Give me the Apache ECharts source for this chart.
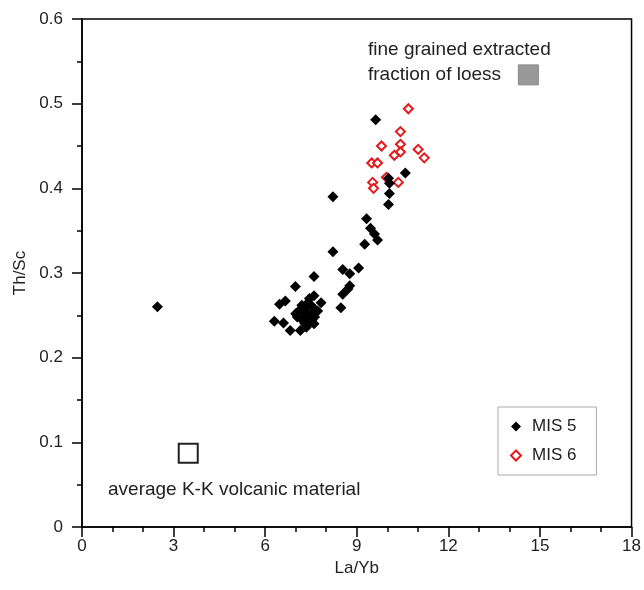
<!DOCTYPE html>
<html>
<head>
<meta charset="utf-8">
<script src="https://cdn.jsdelivr.net/npm/echarts@6/dist/echarts.min.js"></script>
<style>html,body{margin:0;padding:0;background:#fff}#c{width:644px;height:590px}</style>
</head>
<body>
<div id="c"></div>
<script>
// MIS 5 samples
var mis5X = [2.47, 9.62, 10.59, 10.04, 10.07, 10.07, 10.04, 8.22, 9.32, 9.45, 9.58, 9.68, 9.26, 8.22, 9.06, 8.54, 8.77, 8.77, 8.71, 8.54, 8.48,
  7.60, 6.99, 7.60, 6.66, 6.47, 7.83, 6.30, 6.60, 6.82, 7.15,
  7.10, 7.20, 7.30, 7.40, 7.50, 7.60, 7.30, 7.40, 7.50, 7.20, 7.05, 7.62, 7.72, 7.40, 7.52, 7.60, 7.30, 7.00, 7.45, 7.25, 7.55, 7.35];
var mis5Y = [0.260, 0.481, 0.418, 0.412, 0.406, 0.394, 0.381, 0.390, 0.364, 0.353, 0.346, 0.339, 0.334, 0.325, 0.306, 0.304, 0.299, 0.285, 0.281, 0.275, 0.259,
  0.296, 0.284, 0.273, 0.267, 0.263, 0.265, 0.243, 0.241, 0.232, 0.232,
  0.255, 0.262, 0.258, 0.265, 0.262, 0.258, 0.248, 0.252, 0.250, 0.245, 0.248, 0.248, 0.255, 0.240, 0.243, 0.240, 0.240, 0.252, 0.270, 0.255, 0.246, 0.236];
// MIS 6 samples
var mis6X = [10.69, 10.43, 9.81, 10.43, 10.43, 10.23, 11.01, 11.21, 9.49, 9.68, 9.52, 9.55, 10.36, 9.97];
var mis6Y = [0.494, 0.467, 0.450, 0.452, 0.443, 0.439, 0.446, 0.436, 0.430, 0.430, 0.407, 0.400, 0.407, 0.413];
// reference end members
var loessPoint = [14.62, 0.534];
var volcanicPoint = [3.48, 0.087];
var xTicks = [0, 3, 6, 9, 12, 15, 18];
var yTicks = [0, 0.1, 0.2, 0.3, 0.4, 0.5, 0.6];

function zip(a, b) { return a.map(function (v, i) { return [v, b[i]]; }); }

var chart = echarts.init(document.getElementById('c'));
var font = 'Liberation Sans, Arial, sans-serif';
var txt = '#222';
chart.setOption({
  animation: false,
  backgroundColor: '#fff',
  textStyle: { fontFamily: font },
  grid: { left: 82, right: 5, top: 19, bottom: 63, show: true, borderColor: '#000', borderWidth: 1.5, backgroundColor: 'transparent' },
  xAxis: {
    type: 'value', min: xTicks[0], max: xTicks[xTicks.length - 1], interval: 3,
    name: 'La/Yb', nameLocation: 'middle', nameGap: 27,
    nameTextStyle: { fontSize: 17, color: txt, fontFamily: font },
    axisLine: { show: true, lineStyle: { color: '#000', width: 1.5 } },
    axisTick: { show: true, length: 10, inside: false, lineStyle: { color: '#000', width: 1.5 } },
    minorTick: { show: true, splitNumber: 3, length: 5, lineStyle: { color: '#000', width: 1.5 } },
    splitLine: { show: false },
    axisLabel: { fontSize: 17, color: txt, margin: 11, fontFamily: font }
  },
  yAxis: {
    type: 'value', min: yTicks[0], max: yTicks[yTicks.length - 1], interval: 0.1,
    name: 'Th/Sc', nameLocation: 'middle', nameGap: 53,
    nameTextStyle: { fontSize: 17, color: txt, fontFamily: font },
    axisLine: { show: true, lineStyle: { color: '#000', width: 1.5 } },
    axisTick: { show: true, length: 10, inside: false, lineStyle: { color: '#000', width: 1.5 } },
    minorTick: { show: true, splitNumber: 2, length: 5, lineStyle: { color: '#000', width: 1.5 } },
    splitLine: { show: false },
    axisLabel: { fontSize: 17, color: txt, margin: 19, fontFamily: font, formatter: function (v) { return String(+v.toFixed(1)); } }
  },
  legend: {
    data: ['MIS 5', 'MIS 6'], orient: 'vertical', left: 498, top: 407,
    padding: [11, 20, 11, 12], itemGap: 12, itemWidth: 10, itemHeight: 10,
    borderColor: '#aaa', borderWidth: 1,
    textStyle: { fontSize: 17, color: txt, fontFamily: font, padding: [0, 0, 0, 6] }
  },
  series: [
    {
      name: 'MIS 6', type: 'scatter', symbol: 'diamond', symbolSize: 9,
      itemStyle: { color: '#fff', borderColor: '#e3191b', borderWidth: 2, opacity: 1 },
      data: zip(mis6X, mis6Y), z: 3
    },
    {
      name: 'MIS 5', type: 'scatter', symbol: 'diamond', symbolSize: 11,
      itemStyle: { color: '#000', opacity: 1 },
      data: zip(mis5X, mis5Y), z: 4
    },
    {
      name: 'loess', type: 'scatter', symbol: 'rect', symbolSize: 20,
      itemStyle: { color: '#999', borderColor: '#888', borderWidth: 1, opacity: 1 },
      data: [loessPoint], z: 2
    },
    {
      name: 'volcanic', type: 'scatter', symbol: 'rect', symbolSize: 19,
      itemStyle: { color: '#fff', borderColor: '#222', borderWidth: 2, opacity: 1 },
      data: [volcanicPoint], z: 2
    }
  ],
  graphic: [
    { type: 'text', left: 368, top: 40, style: { text: 'fine grained extracted', font: '19px ' + font, fill: txt } },
    { type: 'text', left: 368, top: 65, style: { text: 'fraction of loess', font: '19px ' + font, fill: txt } },
    { type: 'text', left: 108, top: 480, style: { text: 'average K-K volcanic material', font: '19px ' + font, fill: txt } }
  ]
});
</script>
</body>
</html>
